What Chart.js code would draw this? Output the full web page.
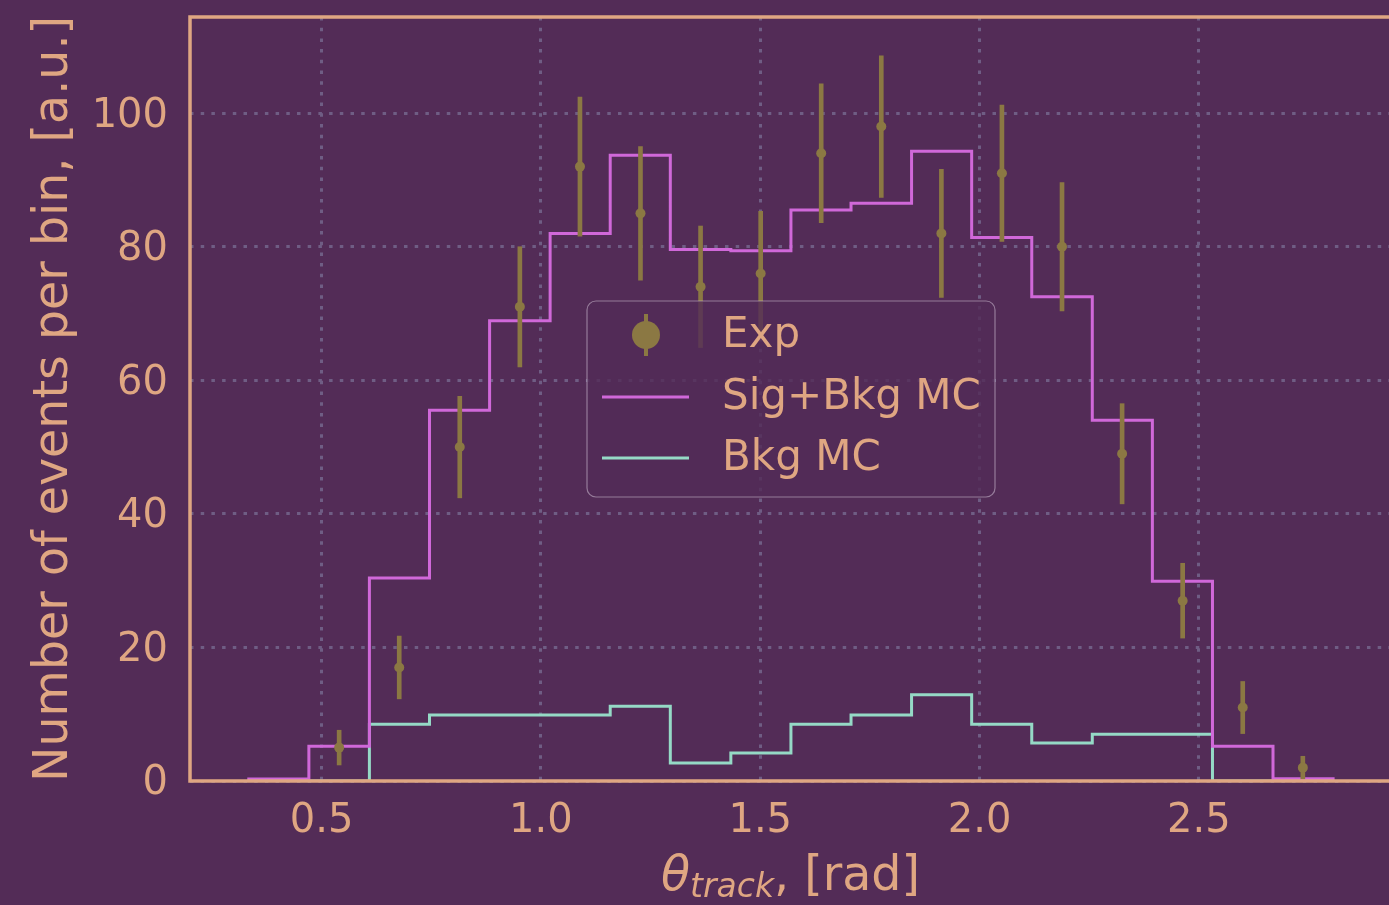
<!DOCTYPE html>
<html>
<head>
<meta charset="utf-8">
<script src="https://cdn.jsdelivr.net/npm/chart.js@4.4.1/dist/chart.umd.min.js"></script>
<style>
  html, body { margin: 0; padding: 0; background: #532c57; overflow: hidden; }
  canvas { display: block; }
</style>
</head>
<body>
<canvas id="c" width="1400" height="905"></canvas>
<script>
// theta_track histogram: 18 bins
const binEdges = [0.334, 0.471, 0.609, 0.746, 0.883, 1.021, 1.158, 1.295, 1.433, 1.570,
                  1.707, 1.845, 1.982, 2.119, 2.257, 2.394, 2.531, 2.669, 2.806];
const sigBkgMC = [0.3, 5.2, 30.4, 55.5, 68.9, 82.0, 93.7, 79.6, 79.4, 85.5,
                  86.5, 94.3, 81.4, 72.5, 54.0, 29.9, 5.2, 0.35];
const bkgMC    = [0, 0, 8.5, 9.9, 9.9, 9.9, 11.2, 2.7, 4.2, 8.5,
                  9.9, 12.9, 8.5, 5.7, 7.0, 7.0, 0, 0];

// experimental points (bin centres, counts, errors)
const expTheta  = [0.540, 0.677, 0.815, 0.952, 1.089, 1.227, 1.364, 1.501, 1.639,
                   1.776, 1.913, 2.051, 2.188, 2.325, 2.463, 2.600, 2.737];
const expCounts = [5, 17, 50, 71, 92, 85, 74, 76, 94, 98, 82, 91, 80, 49, 27, 11, 2];
const expErrors = [2.6, 4.7, 7.6, 9.0, 10.4, 10.0, 9.1, 9.3, 10.4, 10.6, 9.6, 10.2, 9.6, 7.5, 5.6, 3.9, 1.7];

const xTicks = [0.5, 1.0, 1.5, 2.0, 2.5];
const yTicks = [0, 20, 40, 60, 80, 100];
const legendLabels = ['Exp', 'Sig+Bkg MC', 'Bkg MC'];

const FG = '#dfa682';
const MAGENTA = '#d068d9';
const MINT = '#95d9c6';
const OLIVE = '#8b7843';
const GRID = '#6f5d84';
const FONT = "'DejaVu Sans', sans-serif";

// step outline like histtype='step'
function stepPoints(vals) {
  const n = vals.length;
  const pts = [{ x: binEdges[0], y: 0 }];
  vals.forEach((v, i) => pts.push({ x: binEdges[i], y: v }));
  pts.push({ x: binEdges[n], y: vals[n - 1] });
  pts.push({ x: binEdges[n], y: 0 });
  return pts;
}

const frame = {
  id: 'frame',
  afterDatasetsDraw(chart) {
    const { ctx, chartArea: a } = chart;
    ctx.save();
    // spines
    ctx.strokeStyle = FG;
    ctx.lineWidth = 3.5;
    ctx.beginPath();
    ctx.moveTo(a.right + 10, a.top);
    ctx.lineTo(a.left, a.top);
    ctx.lineTo(a.left, a.bottom);
    ctx.lineTo(a.right + 10, a.bottom);
    ctx.stroke();

    // legend
    const bx = 587, by = 301, bw = 408, bh = 196;
    ctx.beginPath();
    ctx.roundRect(bx, by, bw, bh, 9);
    ctx.fillStyle = 'rgba(83, 44, 87, 0.8)';
    ctx.fill();
    ctx.strokeStyle = 'rgba(205, 190, 210, 0.55)';
    ctx.lineWidth = 1.2;
    ctx.stroke();

    const rows = [335, 397, 458];
    // Exp marker
    ctx.fillStyle = OLIVE;
    ctx.fillRect(644, 314, 4, 42);
    ctx.beginPath();
    ctx.arc(646, rows[0], 14, 0, Math.PI * 2);
    ctx.fill();
    // MC lines
    ctx.lineWidth = 3;
    ctx.strokeStyle = MAGENTA;
    ctx.beginPath(); ctx.moveTo(602, rows[1]); ctx.lineTo(689, rows[1]); ctx.stroke();
    ctx.strokeStyle = MINT;
    ctx.beginPath(); ctx.moveTo(602, rows[2]); ctx.lineTo(689, rows[2]); ctx.stroke();

    ctx.fillStyle = FG;
    ctx.font = `42px ${FONT}`;
    ctx.textBaseline = 'middle';
    ctx.textAlign = 'left';
    legendLabels.forEach((t, i) => ctx.fillText(t, 722, rows[i] + 1));
    ctx.restore();
  },
  afterDraw(chart) {
    // x title: theta_track, [rad]
    const { ctx, chartArea: a } = chart;
    const cx = (a.left + a.right) / 2;
    const base = 890;
    ctx.save();
    ctx.fillStyle = FG;
    ctx.textBaseline = 'alphabetic';
    ctx.textAlign = 'left';
    ctx.font = `italic 47.5px ${FONT}`;
    const w1 = ctx.measureText('θ').width;
    ctx.font = `italic 33px ${FONT}`;
    const w2 = ctx.measureText('track').width;
    ctx.font = `47.5px ${FONT}`;
    const w3 = ctx.measureText(', [rad]').width;
    let x = cx - (w1 + w2 + w3) / 2;
    ctx.font = `italic 47.5px ${FONT}`;
    ctx.fillText('θ', x, base);
    x += w1;
    ctx.font = `italic 33px ${FONT}`;
    ctx.fillText('track', x, base + 7);
    x += w2;
    ctx.font = `47.5px ${FONT}`;
    ctx.fillText(', [rad]', x, base);
    ctx.restore();
  }
};

new Chart(document.getElementById('c'), {
  type: 'scatter',
  data: {
    datasets: [
      {
        type: 'scatter',
        label: legendLabels[0],
        data: expTheta.map((x, i) => ({ x, y: expCounts[i] })),
        backgroundColor: OLIVE,
        borderWidth: 0,
        pointRadius: 5,
        order: 0,
      },
      {
        type: 'bar',
        label: 'Exp errors',
        data: expTheta.map((x, i) => ({ x, y: [expCounts[i] - expErrors[i], expCounts[i] + expErrors[i]] })),
        backgroundColor: OLIVE,
        borderWidth: 0,
        barThickness: 4,
        grouped: false,
        order: 1,
      },
      {
        type: 'line',
        label: legendLabels[1],
        data: stepPoints(sigBkgMC),
        borderColor: MAGENTA,
        borderWidth: 3,
        stepped: 'before',
        pointRadius: 0,
        fill: false,
        order: 2,
      },
      {
        type: 'line',
        label: legendLabels[2],
        data: stepPoints(bkgMC),
        borderColor: MINT,
        borderWidth: 3,
        stepped: 'before',
        pointRadius: 0,
        fill: false,
        order: 3,
      },
    ],
  },
  options: {
    responsive: false,
    animation: false,
    devicePixelRatio: 1,
    layout: { padding: { top: 17, right: 9, left: 0, bottom: 0 } },
    plugins: {
      legend: { display: false },
      tooltip: { enabled: false },
    },
    scales: {
      x: {
        type: 'linear',
        min: 0.2,
        max: 2.938,
        offset: false,
        afterBuildTicks: (s) => { s.ticks = xTicks.map((v) => ({ value: v })); },
        afterFit: (s) => { s.height = 124; s.paddingLeft = 0; s.paddingRight = 0; },
        grid: { color: GRID, lineWidth: 3, drawTicks: false, offset: false },
        border: { display: false, dash: [3.5, 7.2] },
        ticks: {
          color: FG,
          padding: 17,
          font: { family: FONT, size: 40 },
          callback: (v) => v.toFixed(1),
        },
      },
      y: {
        type: 'linear',
        min: 0,
        max: 114.4,
        afterBuildTicks: (s) => { s.ticks = yTicks.map((v) => ({ value: v })); },
        afterFit: (s) => { s.width = 190; s.paddingTop = 0; s.paddingBottom = 0; },
        grid: { color: GRID, lineWidth: 3, drawTicks: false },
        border: { display: false, dash: [3.5, 7.2] },
        ticks: {
          color: FG,
          padding: 22,
          labelOffset: 3,
          font: { family: FONT, size: 40 },
        },
        title: {
          display: true,
          text: 'Number of events per bin, [a.u.]',
          color: FG,
          font: { family: FONT, size: 47.5 },
          padding: { top: 26, bottom: 0 },
        },
      },
    },
  },
  plugins: [frame],
});
</script>
</body>
</html>
